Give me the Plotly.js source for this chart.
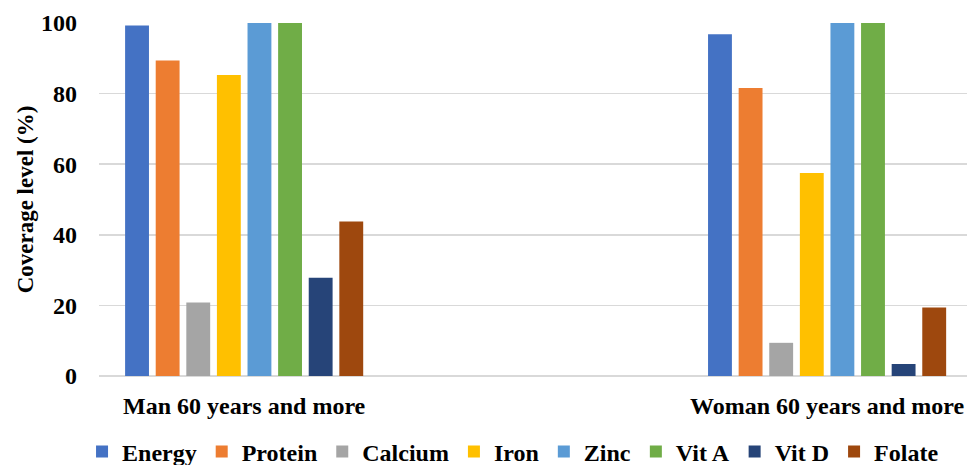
<!DOCTYPE html>
<html>
<head>
<meta charset="utf-8">
<script src="https://cdn.plot.ly/plotly-3.0.1.min.js"></script>
<style>html,body{margin:0;padding:0;background:#fff;}#chart{width:967px;height:465px;}</style>
</head>
<body>
<div id="chart"></div>
<script>
const groups = ["Man 60 years and more", "Woman 60 years and more"];
const nutrients = ["Energy", "Protein", "Calcium", "Iron", "Zinc", "Vit A", "Vit D", "Folate"];
const energy  = [99.3, 96.8];
const protein = [89.4, 81.6];
const calcium = [20.8, 9.4];
const iron    = [85.3, 57.5];
const zinc    = [100, 100];
const vitA    = [100, 100];
const vitD    = [27.8, 3.4];
const folate  = [43.8, 19.4];
const yTicks  = [0, 20, 40, 60, 80, 100];

const values = [energy, protein, calcium, iron, zinc, vitA, vitD, folate];
const colors = ["#4472C4", "#ED7D31", "#A5A5A5", "#FFC000", "#5B9BD5", "#70AD47", "#264478", "#9E480E"];

const traces = nutrients.map((n, i) => ({
  type: "bar",
  name: n,
  x: groups,
  y: values[i],
  marker: {color: colors[i]},
  hoverinfo: "x+y+name"
}));

const layout = {
  width: 967,
  height: 465,
  margin: {l: 99, r: 0, t: 23, b: 89, autoexpand: false},
  paper_bgcolor: "#fff",
  plot_bgcolor: "#fff",
  barmode: "group",
  bargap: 0.58,
  bargroupgap: 0.22,
  font: {family: "Liberation Serif", color: "#000", size: 24},
  xaxis: {
    type: "category",
    range: [-0.249, 1.24],
    automargin: false,
    showgrid: false,
    showline: false,
    zeroline: false,
    ticks: "",
    ticklabelstandoff: 13,
    tickfont: {family: "Liberation Serif", size: 24, color: "#000", weight: "bold"}
  },
  yaxis: {
    range: [0, 100],
    automargin: false,
    tickvals: yTicks,
    ticktext: yTicks.map(String),
    showgrid: true,
    gridcolor: "#d9d9d9",
    gridwidth: 1.5,
    zeroline: true,
    zerolinecolor: "#d9d9d9",
    zerolinewidth: 1.5,
    showline: false,
    ticks: "",
    ticklabelstandoff: 21,
    tickfont: {family: "Liberation Serif", size: 24, color: "#000", weight: "bold"},
    title: {text: "Coverage level (%)", font: {family: "Liberation Serif", size: 23, color: "#000", weight: "bold"}, standoff: 0}
  },
  showlegend: true,
  legend: {
    orientation: "h",
    x: 0.477,
    xanchor: "center",
    yref: "container",
    y: 0.028,
    yanchor: "middle",
    font: {family: "Liberation Serif", size: 24, color: "#000", weight: "bold"},
    itemwidth: 30,
    traceorder: "normal",
    bgcolor: "rgba(0,0,0,0)"
  }
};

Plotly.newPlot("chart", traces, layout, {displayModeBar: false, staticPlot: true});
</script>
</body>
</html>
